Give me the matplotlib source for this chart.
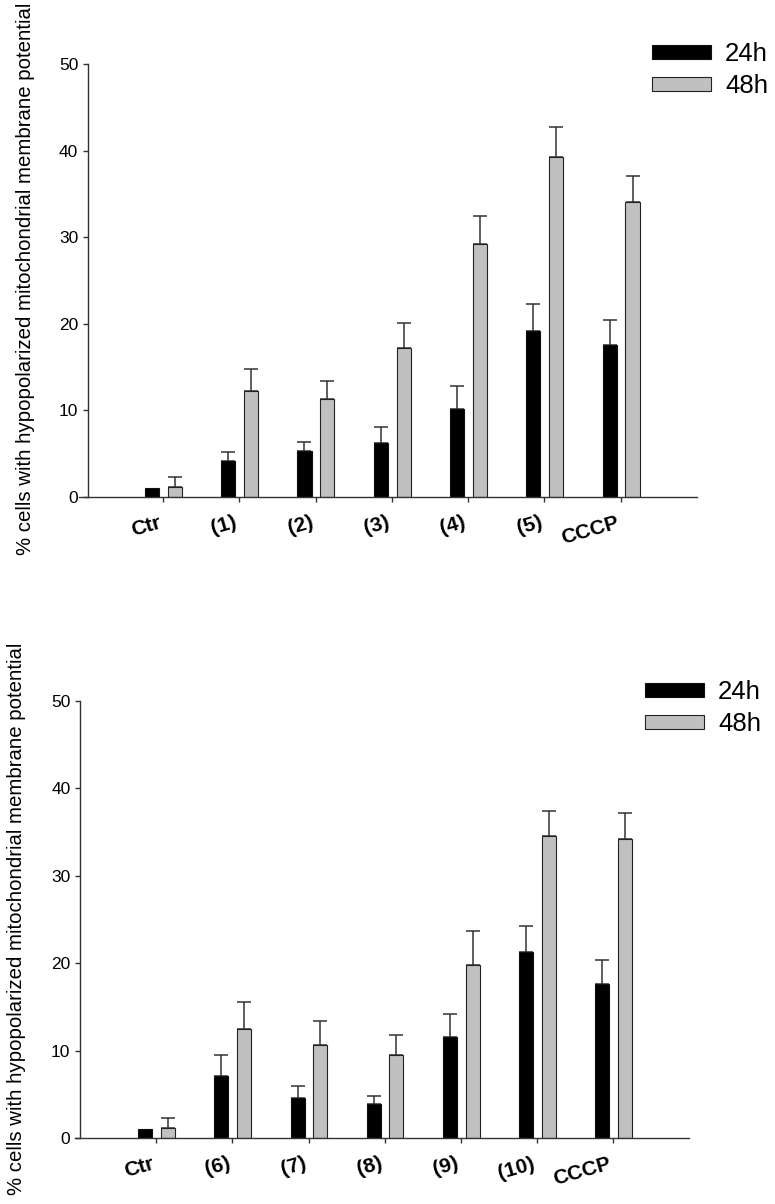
import matplotlib
matplotlib.use("Agg")
import matplotlib.pyplot as plt
import numpy as np
from matplotlib.transforms import ScaledTranslation

plt.rcParams['font.family'] = ['Liberation Sans', 'DejaVu Sans']

# ---- data ----
series_names = ['24h', '48h']

cats_top = ['Ctr', '(1)', '(2)', '(3)', '(4)', '(5)', 'CCCP']
top_24 = [1.0, 4.2, 5.3, 6.2, 10.2, 19.2, 17.6]
top_24_err = [0.0, 1.0, 1.1, 1.9, 2.6, 3.1, 2.8]
top_48 = [1.2, 12.2, 11.3, 17.2, 29.2, 39.3, 34.1]
top_48_err = [1.1, 2.6, 2.1, 2.9, 3.2, 3.4, 3.0]

cats_bot = ['Ctr', '(6)', '(7)', '(8)', '(9)', '(10)', 'CCCP']
bot_24 = [1.0, 7.15, 4.6, 3.9, 11.6, 21.3, 17.6]
bot_24_err = [0.0, 2.35, 1.3, 0.95, 2.6, 3.0, 2.8]
bot_48 = [1.2, 12.5, 10.65, 9.45, 19.8, 34.5, 34.2]
bot_48_err = [1.1, 3.1, 2.75, 2.35, 3.9, 2.9, 3.0]

yticks = [0, 10, 20, 30, 40, 50]
ylabel = '% cells with hypopolarized mitochondrial membrane potential'

W, H = 775, 1204
fig = plt.figure(figsize=(W / 100, H / 100), dpi=100)


def px_axes(left, right, top, bottom):
    return fig.add_axes([left / W, 1 - bottom / H, (right - left) / W, (bottom - top) / H])


def draw_panel(ax, cats, v24, e24, v48, e48, spine_x, xlim, legend_anchor, ylab_x, ylab_y):
    x = np.arange(len(cats))
    w = 0.185
    off24, off48 = -0.145, 0.155
    b1 = ax.bar(x + off24, v24, width=w, color='black', edgecolor='#111111',
                linewidth=0.8, label=series_names[0], zorder=2)
    b2 = ax.bar(x + off48, v48, width=w, color='#c0c0c0', edgecolor='#222222',
                linewidth=0.8, label=series_names[1], zorder=2)
    for off, vals, errs in ((off24, v24, e24), (off48, v48, e48)):
        vals = np.array(vals)
        errs = np.array(errs)
        m = errs > 0
        ax.errorbar(x[m] + off, vals[m], yerr=[np.zeros(m.sum()), errs[m]],
                    fmt='none', ecolor='#333333', elinewidth=1.1, capsize=5,
                    capthick=1.1, zorder=1)
    ax.set_xlim(*xlim)
    ax.set_ylim(0, 50)
    ax.set_yticks(yticks)
    ax.set_xticks(x)
    ax.set_xticklabels(cats, rotation=16, ha='right', fontsize=15, fontweight='bold')
    for lab in ax.get_xticklabels():
        lab.set_transform(lab.get_transform() + ScaledTranslation(3 / 100, 0, fig.dpi_scale_trans))
    ax.spines['top'].set_visible(False)
    ax.spines['right'].set_visible(False)
    ax.spines['left'].set_position(('data', spine_x))
    for s in ('left', 'bottom'):
        ax.spines[s].set_linewidth(1.0)
        ax.spines[s].set_color('#333333')
    ax.tick_params(axis='y', direction='out', length=3.6, width=1.0, color='#333333',
                   labelsize=12.5, pad=3.5)
    ax.tick_params(axis='x', direction='out', length=3.6, width=1.0, color='#333333',
                   pad=8)
    ax.legend(handles=[b1, b2], loc='upper left',
              bbox_to_anchor=legend_anchor, bbox_transform=fig.transFigure,
              frameon=False, fontsize=18.5, handlelength=2.3, handleheight=0.47,
              handletextpad=0.55, labelspacing=0.31, borderpad=0, borderaxespad=0)
    fig.text(ylab_x / W, 1 - ylab_y / H, ylabel, rotation=90, ha='center', va='center',
             fontsize=14.7)


ax1 = px_axes(79, 697, 64, 497)
draw_panel(ax1, cats_top, top_24, top_24_err, top_48, top_48_err,
           spine_x=-0.98, xlim=(-1.1, 7.0), legend_anchor=(652 / W, 1 - 42 / H),
           ylab_x=26, ylab_y=279)

ax2 = px_axes(75, 689, 701, 1138)
draw_panel(ax2, cats_bot, bot_24, bot_24_err, bot_48, bot_48_err,
           spine_x=-1.0, xlim=(-1.07, 7.0), legend_anchor=(645 / W, 1 - 680 / H),
           ylab_x=17, ylab_y=919)

fig.savefig('out.png', dpi=100)
